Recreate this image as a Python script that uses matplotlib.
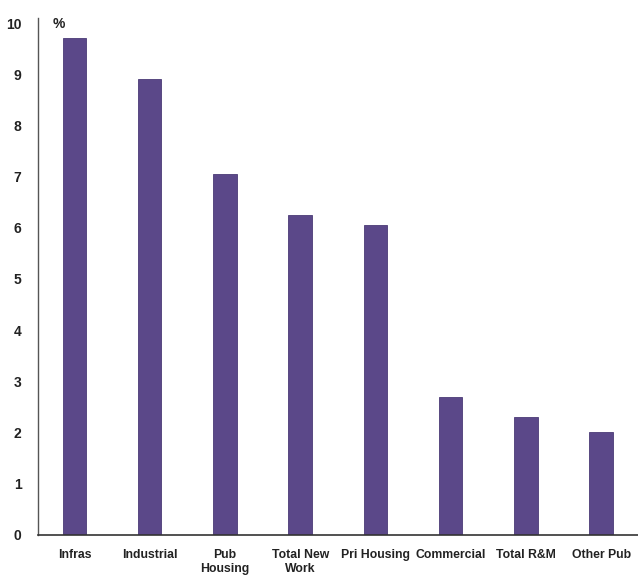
import matplotlib
matplotlib.use("Agg")
import matplotlib.pyplot as plt

categories = ["Infras", "Industrial", "Pub\nHousing", "Total New\nWork",
              "Pri Housing", "Commercial", "Total R&M", "Other Pub"]
growth = [9.7, 8.9, 7.05, 6.25, 6.05, 2.7, 2.3, 2.0]
yticks = [0, 1, 2, 3, 4, 5, 6, 7, 8, 9, 10]

plt.rcParams['font.family'] = ['Liberation Sans', 'DejaVu Sans']

fig = plt.figure(figsize=(6.38, 5.80), dpi=100)
ax = fig.add_axes([0.06, 0.078, 0.94, 0.891])

x = range(len(categories))
ax.bar(x, growth, width=0.31, color='#5b4889', edgecolor='#4b3a76', linewidth=0.6)

ax.set_xlim(-0.48, 7.49)
ax.set_ylim(0, 10.1)
ax.set_yticks(yticks)
ax.set_yticklabels([str(t) for t in yticks], fontsize=10, fontweight='bold', color='#222222')
ax.set_xticks(list(x))
ax.set_xticklabels(categories, fontsize=8.8, fontweight='bold', color='#222222', linespacing=1.3)
ax.tick_params(axis='y', length=0, pad=12)
ax.tick_params(axis='x', length=0, pad=10)

for s in ['top', 'right']:
    ax.spines[s].set_visible(False)
ax.spines['left'].set_color('#555555')
ax.spines['bottom'].set_color('#333333')
ax.spines['left'].set_linewidth(1.0)
ax.spines['bottom'].set_linewidth(1.2)

ax.text(-0.21, 9.98, "%", fontsize=10, fontweight='bold', color='#222222', va='center', ha='center')

fig.savefig("out.png", dpi=100)
